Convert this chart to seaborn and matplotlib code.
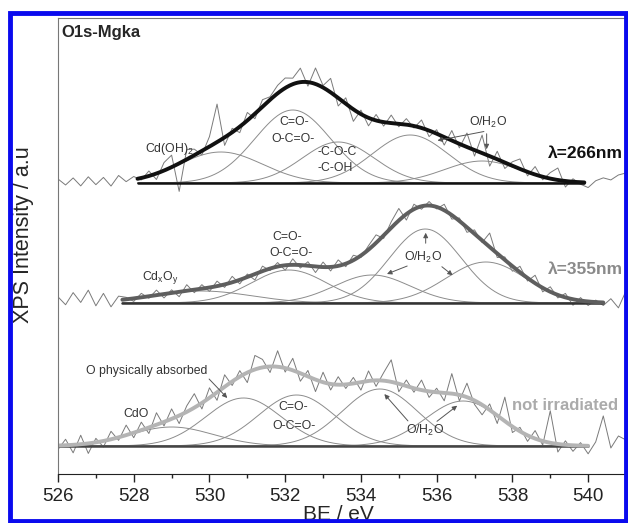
import numpy as np
import pandas as pd
import seaborn as sns
import matplotlib.pyplot as plt
from matplotlib.patches import Rectangle

# binding energy grid of the measured spectra (eV)
be_raw = np.round(np.arange(526.0, 541.01, 0.2), 1)

# --- lambda = 266 nm (top) ---
top_baseline = 291
top_fit = (528.1, 539.9)
top_centers = [530.3, 532.2, 533.4, 535.3, 537.2]
top_heights = [31, 73, 41, 48, 22]
top_sigmas = [1.1, 1.0, 0.95, 1.0, 1.0]
top_resid = [4, -2, 5, -3, 6, -2, 5, -4, 6, -1, 3,
             -2, 5, -6, 8, 12, -28, 10, 6, -4, 10,
             38, -8, 4, -6, 8, -5, 7, 3, 8, 10,
             6, 14, -4, 16, 2, 14, -8, 6, -12, 4,
             -8, 6, -4, 8, -3, 6, -2, 8, -6, 4,
             -8, 10, -4, 14, -6, 18, -10, 8, -6, 4,
             10, -4, 8, -3, 6, 12, -6, 3, -2, -5,
             2, 5, 3, 8, 10]

# --- lambda = 355 nm (middle) ---
mid_baseline = 171
mid_fit = (527.7, 540.4)
mid_centers = [529.8, 532.1, 534.3, 535.7, 537.3]
mid_heights = [12, 33, 28, 74, 41]
mid_sigmas = [1.3, 1.0, 1.0, 0.95, 1.05]
mid_resid = [6, -2, 10, 0, 12, -4, 8, -6, 4,
             2, -3, 4, -2, 5, -4, 3, -5, 6, -3, 4, -4,
             5, -3, 6, -4, 3, -6, 5, -2, 4, -5, 6, -3, 4, -6, 5,
             -4, 6, -3, 5, -2, 4, 8, -3, 6, 12, -6, 5, -3, 4, -2, 6, -4,
             3, -5, 4, -2, 14, -4, 3, -5, 6, -3, 8, -4, 5,
             -3, 4, -6, 3, -4, 2, -3, 4, -5, 12]

# --- not irradiated (bottom) ---
bot_baseline = 28
bot_fit = (526.0, 540.0)
bot_centers = [529.0, 530.9, 532.3, 534.5, 536.7]
bot_heights = [19, 48, 51, 57, 45]
bot_sigmas = [1.1, 1.0, 1.0, 1.0, 1.0]
bot_resid = [-4, 6, -8, 9, -10, 4, -6, 8, -3, 10, -5,
             8, -6, 12, -4, 10, -8, 6, 14, -6, 10,
             -8, 12, -4, 6, -10, 14, 8, -6, 16, -4,
             12, -8, 6, -12, 10, -6, 8, -4, 6, -8,
             10, -6, 8, 22, -8, 6, -4, 10, -6, 4,
             -8, 20, -6, 14, -4, -10, 6, -8, 24, -6,
             4, -6, 8, -4, 32, -8, 4, -6, 3, -8,
             4, 30, -2, 10, 6]

spectra = [
    dict(base=top_baseline, fit=top_fit, c=top_centers, h=top_heights, s=top_sigmas,
         res=top_resid, env="#111111", bl="#111111"),
    dict(base=mid_baseline, fit=mid_fit, c=mid_centers, h=mid_heights, s=mid_sigmas,
         res=mid_resid, env="#5e5e5e", bl="#333333"),
    dict(base=bot_baseline, fit=bot_fit, c=bot_centers, h=bot_heights, s=bot_sigmas,
         res=bot_resid, env="#b4b4b4", bl="#444444"),
]


def gauss(x, c, h, s):
    return h * np.exp(-(x - c) ** 2 / (2 * s ** 2))


sns.set_style("ticks")
plt.rcParams['font.family'] = ['Liberation Sans', 'DejaVu Sans']
plt.rcParams['mathtext.fontset'] = 'custom'
plt.rcParams['mathtext.rm'] = 'Liberation Sans'
plt.rcParams['mathtext.it'] = 'Liberation Sans'

fig = plt.figure(figsize=(6.28, 5.23), dpi=100)
ax = fig.add_axes([58 / 628, 49 / 523, 568 / 628, 456 / 523])

for sp in spectra:
    raw = sp["base"] + sum(gauss(be_raw, c, h, s) for c, h, s in zip(sp["c"], sp["h"], sp["s"]))
    raw = raw + np.array(sp["res"])
    sns.lineplot(x=be_raw, y=raw, ax=ax, color="#7a7a7a", lw=0.7, errorbar=None)

    xf = np.linspace(sp["fit"][0], sp["fit"][1], 400)
    env = np.full_like(xf, sp["base"], dtype=float)
    for c, h, s in zip(sp["c"], sp["h"], sp["s"]):
        comp = gauss(xf, c, h, s)
        env += comp
        sns.lineplot(x=xf, y=sp["base"] + comp, ax=ax, color="#8c8c8c", lw=0.7, errorbar=None)
    sns.lineplot(x=[sp["fit"][0], sp["fit"][1]], y=[sp["base"], sp["base"]], ax=ax,
                 color=sp["bl"], lw=1.8, errorbar=None)
    sns.lineplot(x=xf, y=env, ax=ax, color=sp["env"], lw=2.8, errorbar=None)

ax.set_xlim(526, 541)
ax.set_ylim(0, 456)
ax.set_xticks(range(526, 541, 2))
ax.set_xticks(range(527, 541, 2), minor=True)
ax.set_yticks([])
ax.tick_params(axis="x", which="major", length=6, width=1, labelsize=13.5, pad=4, colors="#222222")
ax.tick_params(axis="x", which="minor", length=3, width=1, colors="#222222")
for side in ["left", "top", "right"]:
    ax.spines[side].set_color("#777777")
    ax.spines[side].set_linewidth(0.8)
ax.spines["bottom"].set_color("#222222")

ax.set_xlabel("BE / eV", fontsize=15, va="top")
ax.xaxis.set_label_coords(0.493, -0.068)
ax.set_ylabel("XPS Intensity / a.u", fontsize=15.5, va="center")
ax.yaxis.set_label_coords(-0.061, 0.526)

ax.text(526.1, 442, "O1s-Mgka", fontsize=12, fontweight="bold", va="center")

small = dict(fontsize=8.8, color="#333333", va="center")
arrow = dict(arrowstyle="-|>", color="#555555", lw=0.7, mutation_scale=7)

# top labels
ax.text(528.3, 325, r"Cd(OH)$_2$", **small)
ax.text(532.25, 352, "C=O-", ha="center", **small)
ax.text(532.2, 335, "O-C=O-", ha="center", **small)
ax.text(532.85, 322, "-C-O-C", **small)
ax.text(532.85, 306, "-C-OH", **small)
ax.text(536.85, 352, r"O/H$_2$O", **small)
ax.annotate("", xy=(535.95, 333), xytext=(537.32, 343), arrowprops=arrow)
ax.annotate("", xy=(537.32, 322), xytext=(537.32, 343), arrowprops=arrow)
ax.text(538.95, 321, "λ=266nm", fontsize=12.5, fontweight="bold", color="#111111", va="center")

# middle labels
ax.text(528.22, 197, r"Cd$_x$O$_y$", **small)
ax.text(532.06, 237, "C=O-", ha="center", **small)
ax.text(532.14, 221, "O-C=O-", ha="center", **small)
ax.text(535.15, 217, r"O/H$_2$O", **small)
ax.annotate("", xy=(535.71, 244), xytext=(535.71, 228), arrowprops=arrow)
ax.annotate("", xy=(534.62, 199), xytext=(535.29, 209), arrowprops=arrow)
ax.annotate("", xy=(536.48, 197), xytext=(536.08, 209), arrowprops=arrow)
ax.text(538.95, 204, "λ=355nm", fontsize=12.5, fontweight="bold", color="#8a8a8a", va="center")

# bottom labels
ax.text(526.75, 103, "O physically absorbed", **small)
ax.annotate("", xy=(530.52, 74), xytext=(529.94, 97), arrowprops=arrow)
ax.text(527.72, 60, "CdO", **small)
ax.text(532.22, 67, "C=O-", ha="center", **small)
ax.text(532.24, 48, "O-C=O-", ha="center", **small)
ax.text(535.2, 44, r"O/H$_2$O", **small)
ax.annotate("", xy=(534.57, 82), xytext=(535.29, 51), arrowprops=arrow)
ax.annotate("", xy=(536.6, 70), xytext=(535.95, 51), arrowprops=arrow)
ax.text(538.0, 69, "not irradiated", fontsize=12, fontweight="bold", color="#ababab", va="center")

# blue frame around the figure
fig.patches.append(Rectangle((10 / 628, 2 / 523), 616 / 628, 508 / 523, transform=fig.transFigure,
                             fill=False, edgecolor="#0a0aee", lw=3.5, zorder=10))

fig.savefig("out.png", dpi=100)
